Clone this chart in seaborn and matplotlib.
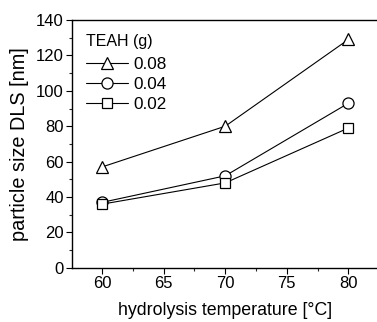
import matplotlib
matplotlib.use("Agg")
import matplotlib.pyplot as plt
import seaborn as sns
import pandas as pd
from matplotlib.ticker import MultipleLocator

temperature = [60, 70, 80]
teah_labels = ["0.08", "0.04", "0.02"]
size_008 = [57, 80, 129]
size_004 = [37, 52, 93]
size_002 = [36, 48, 79]

rows = []
for lab, vals in zip(teah_labels, [size_008, size_004, size_002]):
    for t, v in zip(temperature, vals):
        rows.append({"T": t, "size": v, "TEAH": lab})
df = pd.DataFrame(rows)

sns.set_style("ticks")
plt.rcParams['font.family'] = ['Liberation Sans', 'DejaVu Sans']
plt.rcParams['text.color'] = 'black'
plt.rcParams['axes.labelcolor'] = 'black'

fig = plt.figure(figsize=(3.77, 3.22), dpi=100)
ax = fig.add_axes([72 / 377, 0.168, 306 / 377, 0.770])

markers = {"0.08": "^", "0.04": "o", "0.02": "s"}
msizes = {"0.08": 8.5, "0.04": 8, "0.02": 7}
for lab in teah_labels:
    sub = df[df.TEAH == lab]
    sns.lineplot(data=sub, x="T", y="size", ax=ax, color="black", lw=0.8,
                 marker=markers[lab], markersize=msizes[lab],
                 markerfacecolor="white", markeredgecolor="black",
                 markeredgewidth=0.9, label=lab)

ax.set_xlim(57.56, 82.4)
ax.set_ylim(0, 140)
ax.xaxis.set_major_locator(MultipleLocator(5))
ax.xaxis.set_minor_locator(MultipleLocator(2.5))
ax.yaxis.set_major_locator(MultipleLocator(20))
ax.yaxis.set_minor_locator(MultipleLocator(10))
ax.tick_params(which="major", length=4, width=0.8, labelsize=12, direction="out",
               colors="black", pad=2)
ax.tick_params(which="minor", length=2.5, width=0.8, direction="out")
for s in ax.spines.values():
    s.set_linewidth(1.0)
    s.set_color("black")
ax.set_xlabel("hydrolysis temperature [°C]", fontsize=12.8, labelpad=8)
ax.set_ylabel("particle size DLS [nm]", fontsize=14.3, labelpad=5)

leg = ax.legend(title="TEAH (g)", loc="upper left", frameon=False, fontsize=12.3,
                title_fontsize=11.5, handlelength=2.5, handletextpad=0.3,
                borderaxespad=0.4, labelspacing=0.3, borderpad=0.4)
leg._legend_box.align = "left"
leg._legend_box.sep = 6

fig.savefig("out.png", dpi=100)
